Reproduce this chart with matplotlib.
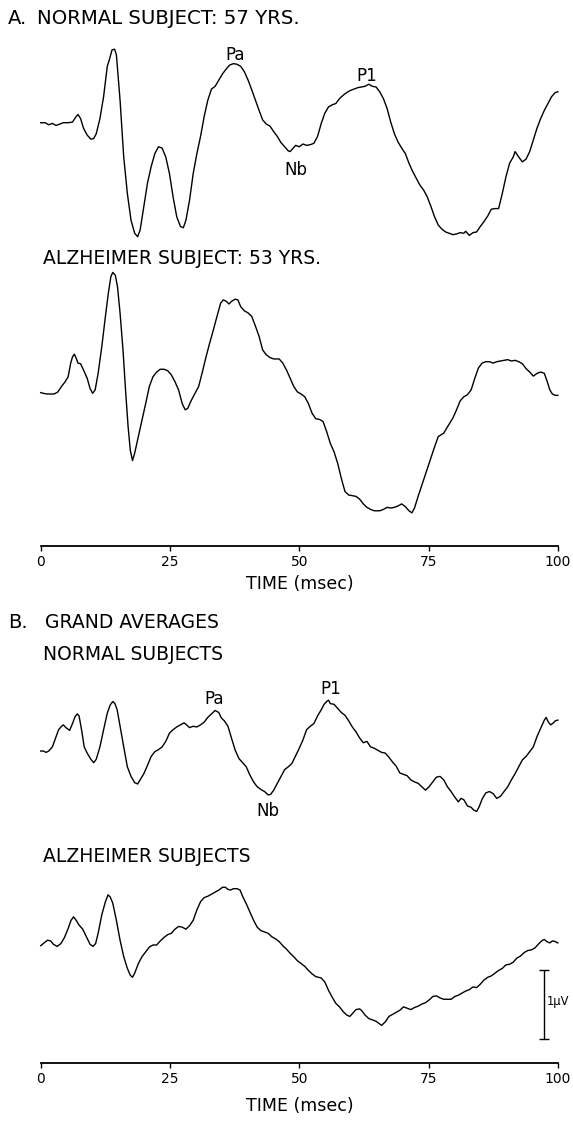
import matplotlib
matplotlib.use("Agg")
import matplotlib.pyplot as plt

# ---------------- data (time in msec, amplitude in microvolts) ----------------
a_normal_t = [0.0, 0.85, 1.56, 2.26, 2.97, 3.68, 4.38, 5.44, 6.15, 6.86,
              7.21, 7.71, 8.27, 8.98, 9.69, 10.25, 10.74, 11.45, 12.16, 12.87,
              13.36, 13.79, 14.28, 14.63, 15.34, 16.05, 16.75, 17.46, 18.17, 18.74,
              19.23, 19.94, 20.64, 21.35, 22.06, 22.77, 23.47, 24.18, 24.89, 25.59,
              26.30, 27.01, 27.57, 28.07, 28.77, 29.48, 30.19, 30.90, 31.60, 32.31,
              33.02, 33.72, 34.43, 35.14, 35.84, 36.55, 37.26, 37.97, 38.67, 39.38,
              40.09, 40.79, 41.50, 42.21, 42.91, 43.62, 44.33, 45.04, 45.74, 46.45,
              47.16, 47.86, 48.22, 48.57, 49.28, 49.98, 50.69, 51.40, 52.11, 52.81,
              53.52, 54.23, 54.93, 55.64, 56.35, 57.06, 57.76, 58.47, 59.18, 59.88,
              60.59, 61.30, 62.00, 62.71, 63.42, 64.12, 64.83, 65.54, 66.25, 66.95,
              67.66, 68.37, 69.07, 69.78, 70.49, 71.19, 71.90, 72.61, 73.32, 74.02,
              74.73, 75.44, 76.14, 76.85, 77.56, 78.27, 78.97, 79.68, 80.39, 81.09,
              81.80, 82.15, 82.86, 83.57, 84.27, 84.98, 85.69, 86.40, 87.10, 87.81,
              88.52, 89.23, 89.93, 90.64, 91.34, 91.70, 92.41, 93.11, 93.82, 94.53,
              95.23, 95.94, 96.65, 97.36, 98.06, 98.77, 99.48, 99.97]
a_normal_v = [0.00, 0.00, -0.03, -0.01, -0.04, -0.02, 0.00, 0.00, 0.01, 0.09,
              0.12, 0.06, -0.08, -0.18, -0.24, -0.23, -0.16, 0.06, 0.38, 0.82,
              0.94, 1.06, 1.07, 0.99, 0.33, -0.50, -1.03, -1.42, -1.61, -1.66,
              -1.56, -1.22, -0.88, -0.64, -0.45, -0.35, -0.37, -0.50, -0.74, -1.08,
              -1.37, -1.51, -1.53, -1.42, -1.13, -0.74, -0.45, -0.20, 0.09, 0.33,
              0.49, 0.53, 0.62, 0.71, 0.78, 0.84, 0.86, 0.85, 0.82, 0.74,
              0.62, 0.48, 0.33, 0.18, 0.04, -0.02, -0.05, -0.13, -0.20, -0.29,
              -0.35, -0.41, -0.42, -0.39, -0.33, -0.35, -0.31, -0.33, -0.32, -0.30,
              -0.20, -0.01, 0.14, 0.23, 0.26, 0.28, 0.35, 0.40, 0.44, 0.47,
              0.49, 0.51, 0.52, 0.53, 0.56, 0.53, 0.52, 0.45, 0.35, 0.21,
              0.01, -0.16, -0.28, -0.37, -0.45, -0.59, -0.71, -0.81, -0.91, -0.98,
              -1.08, -1.22, -1.37, -1.49, -1.55, -1.59, -1.61, -1.63, -1.62, -1.60,
              -1.61, -1.58, -1.64, -1.60, -1.59, -1.51, -1.44, -1.36, -1.26, -1.25,
              -1.25, -1.03, -0.79, -0.59, -0.50, -0.42, -0.50, -0.57, -0.53, -0.42,
              -0.25, -0.08, 0.06, 0.18, 0.28, 0.38, 0.44, 0.45]

a_alz_t = [0.00, 0.49, 1.20, 1.91, 2.62, 3.32, 4.03, 4.74, 5.30, 5.80,
           6.15, 6.50, 6.86, 7.21, 7.71, 8.27, 8.98, 9.54, 10.04, 10.53,
           11.10, 11.81, 12.51, 13.08, 13.57, 13.93, 14.42, 14.85, 15.34, 15.91,
           16.40, 16.90, 17.32, 17.75, 18.17, 18.88, 19.58, 20.29, 21.00, 21.70,
           22.41, 23.12, 23.83, 24.53, 25.24, 25.95, 26.65, 27.36, 27.93, 28.42,
           29.13, 29.84, 30.54, 31.25, 31.96, 32.66, 33.37, 34.08, 34.78, 35.28,
           35.84, 36.41, 36.91, 37.61, 38.11, 38.67, 39.38, 40.09, 40.79, 41.50,
           42.21, 42.91, 43.62, 44.33, 45.04, 46.10, 46.80, 47.51, 48.22, 48.92,
           49.63, 50.34, 51.04, 51.75, 52.46, 53.17, 53.87, 54.58, 55.29, 55.99,
           56.70, 57.41, 58.12, 58.82, 59.53, 60.24, 60.94, 61.65, 62.36, 63.06,
           63.77, 64.48, 65.54, 66.25, 66.95, 67.66, 68.37, 69.07, 69.78, 70.49,
           71.19, 71.76, 72.26, 72.96, 74.02, 75.08, 76.14, 76.85, 77.91, 78.62,
           79.68, 80.39, 81.09, 81.80, 82.50, 83.21, 83.92, 84.63, 85.33, 86.04,
           86.75, 87.46, 88.16, 88.87, 89.58, 90.28, 90.99, 91.70, 92.41, 93.11,
           93.82, 94.53, 95.23, 95.94, 96.65, 97.36, 97.92, 98.42, 98.91, 99.48,
           99.97]
a_alz_v = [0.01, 0.00, -0.01, -0.01, -0.01, 0.02, 0.10, 0.17, 0.24, 0.44,
           0.53, 0.57, 0.51, 0.44, 0.43, 0.34, 0.22, 0.07, 0.00, 0.05,
           0.29, 0.68, 1.12, 1.46, 1.70, 1.76, 1.72, 1.55, 1.17, 0.63,
           0.05, -0.49, -0.83, -0.98, -0.87, -0.63, -0.39, -0.15, 0.10, 0.24,
           0.31, 0.35, 0.35, 0.33, 0.27, 0.17, 0.05, -0.15, -0.24, -0.22,
           -0.10, 0.00, 0.10, 0.31, 0.53, 0.73, 0.92, 1.12, 1.31, 1.36,
           1.34, 1.30, 1.34, 1.37, 1.36, 1.26, 1.20, 1.17, 1.12, 0.98,
           0.83, 0.63, 0.56, 0.52, 0.50, 0.50, 0.44, 0.34, 0.22, 0.10,
           0.02, -0.01, -0.05, -0.15, -0.29, -0.37, -0.38, -0.41, -0.56, -0.73,
           -0.85, -1.02, -1.24, -1.43, -1.48, -1.49, -1.50, -1.54, -1.61, -1.66,
           -1.69, -1.71, -1.71, -1.69, -1.66, -1.67, -1.66, -1.64, -1.61, -1.65,
           -1.71, -1.74, -1.67, -1.50, -1.26, -1.02, -0.78, -0.63, -0.58, -0.49,
           -0.36, -0.24, -0.11, -0.05, -0.02, 0.05, 0.22, 0.37, 0.44, 0.46,
           0.46, 0.44, 0.46, 0.47, 0.48, 0.49, 0.47, 0.48, 0.46, 0.43,
           0.36, 0.31, 0.25, 0.29, 0.31, 0.29, 0.17, 0.05, -0.01, -0.03,
           -0.03]

b_normal_t = [0.00, 0.49, 1.06, 1.56, 2.26, 2.97, 3.46, 4.03, 4.38, 4.88,
              5.59, 6.15, 6.65, 7.07, 7.42, 7.92, 8.41, 8.98, 9.69, 10.25,
              10.74, 11.45, 12.16, 12.87, 13.43, 13.93, 14.35, 14.78, 15.34, 16.05,
              16.75, 17.46, 18.17, 18.74, 19.23, 19.94, 20.64, 21.35, 22.06, 22.77,
              23.47, 24.18, 24.89, 25.59, 26.30, 27.01, 27.71, 28.21, 28.77, 29.48,
              30.19, 30.90, 31.60, 32.31, 33.02, 33.72, 34.43, 34.93, 35.49, 36.20,
              36.91, 37.61, 38.32, 39.03, 39.74, 40.44, 41.15, 41.85, 42.56, 43.27,
              43.98, 44.47, 45.04, 45.74, 46.45, 47.16, 47.86, 48.57, 49.28, 49.98,
              50.69, 51.40, 52.11, 52.81, 53.52, 54.23, 54.79, 55.29, 55.64, 55.99,
              56.70, 57.41, 58.12, 58.82, 59.53, 60.24, 60.94, 61.65, 62.36, 63.06,
              63.77, 64.48, 65.19, 65.89, 66.60, 67.31, 68.01, 68.72, 69.43, 70.13,
              70.84, 71.55, 72.26, 72.96, 73.67, 74.38, 75.08, 75.79, 76.50, 77.20,
              77.91, 78.62, 79.33, 80.03, 80.74, 81.24, 81.80, 82.50, 83.21, 83.71,
              84.27, 84.77, 85.33, 86.04, 86.75, 87.46, 88.16, 88.87, 89.58, 90.28,
              90.99, 91.70, 92.41, 93.11, 93.82, 94.53, 95.23, 95.94, 96.65, 97.36,
              97.71, 98.06, 98.56, 99.12, 99.48, 99.97]
b_normal_v = [0.00, 0.00, -0.02, 0.00, 0.06, 0.21, 0.31, 0.36, 0.38, 0.34,
              0.30, 0.40, 0.50, 0.54, 0.51, 0.30, 0.06, -0.03, -0.12, -0.17,
              -0.12, 0.06, 0.31, 0.55, 0.67, 0.72, 0.69, 0.60, 0.36, 0.06,
              -0.23, -0.37, -0.46, -0.48, -0.42, -0.33, -0.21, -0.08, -0.01, 0.02,
              0.06, 0.14, 0.26, 0.31, 0.35, 0.38, 0.41, 0.38, 0.34, 0.36,
              0.35, 0.38, 0.42, 0.49, 0.54, 0.59, 0.56, 0.48, 0.44, 0.36,
              0.18, 0.01, -0.11, -0.17, -0.23, -0.35, -0.45, -0.52, -0.56, -0.59,
              -0.64, -0.63, -0.57, -0.47, -0.37, -0.27, -0.23, -0.18, -0.07, 0.04,
              0.16, 0.31, 0.36, 0.40, 0.51, 0.60, 0.68, 0.72, 0.74, 0.69,
              0.68, 0.62, 0.56, 0.52, 0.44, 0.35, 0.28, 0.19, 0.12, 0.14,
              0.06, 0.04, 0.01, -0.02, -0.03, -0.09, -0.16, -0.22, -0.32, -0.34,
              -0.36, -0.42, -0.45, -0.47, -0.52, -0.57, -0.52, -0.45, -0.38, -0.37,
              -0.42, -0.52, -0.59, -0.67, -0.74, -0.69, -0.71, -0.80, -0.82, -0.86,
              -0.88, -0.81, -0.70, -0.61, -0.59, -0.62, -0.69, -0.66, -0.59, -0.52,
              -0.42, -0.33, -0.23, -0.13, -0.08, -0.01, 0.06, 0.21, 0.33, 0.45,
              0.49, 0.43, 0.38, 0.41, 0.44, 0.45]

b_alz_t = [0.00, 0.64, 1.34, 1.91, 2.47, 3.18, 3.89, 4.60, 5.30, 5.87,
           6.36, 6.86, 7.42, 8.13, 8.84, 9.54, 10.11, 10.61, 11.10, 11.81,
           12.51, 13.01, 13.43, 13.93, 14.63, 15.34, 16.05, 16.75, 17.32, 17.75,
           18.17, 18.88, 19.58, 20.29, 21.00, 21.70, 22.41, 23.12, 23.83, 24.53,
           25.24, 25.95, 26.65, 27.36, 28.07, 28.77, 29.48, 30.19, 30.90, 31.60,
           32.31, 33.02, 33.72, 34.43, 35.14, 35.70, 36.20, 36.69, 37.26, 37.97,
           38.53, 39.03, 39.74, 40.44, 41.15, 41.85, 42.56, 43.27, 43.98, 44.68,
           45.39, 46.10, 46.80, 47.51, 48.22, 48.92, 49.63, 50.34, 51.04, 51.75,
           52.46, 53.17, 54.23, 54.93, 55.64, 56.35, 57.06, 57.76, 58.47, 59.18,
           59.74, 60.24, 60.94, 61.65, 62.00, 62.71, 63.42, 64.12, 64.83, 65.54,
           65.89, 66.60, 67.31, 68.01, 68.72, 69.43, 70.13, 70.84, 71.55, 72.26,
           72.96, 73.67, 74.38, 75.08, 75.79, 76.50, 77.20, 77.91, 78.62, 79.33,
           80.03, 80.74, 81.45, 82.15, 82.86, 83.57, 84.27, 84.98, 85.69, 86.40,
           87.10, 87.81, 88.52, 89.23, 89.93, 90.64, 91.34, 92.05, 92.76, 93.46,
           94.17, 94.88, 95.58, 96.29, 97.00, 97.36, 97.85, 98.42, 98.91, 99.48,
           99.97]
b_alz_v = [0.00, 0.04, 0.08, 0.07, 0.02, -0.01, 0.03, 0.12, 0.25, 0.37,
           0.42, 0.37, 0.30, 0.24, 0.13, 0.02, -0.01, 0.03, 0.18, 0.45,
           0.64, 0.74, 0.71, 0.62, 0.37, 0.08, -0.16, -0.33, -0.43, -0.46,
           -0.40, -0.26, -0.16, -0.09, -0.02, 0.01, 0.01, 0.07, 0.12, 0.16,
           0.18, 0.24, 0.28, 0.27, 0.24, 0.29, 0.37, 0.52, 0.64, 0.70,
           0.72, 0.75, 0.78, 0.81, 0.85, 0.85, 0.82, 0.81, 0.83, 0.83,
           0.81, 0.72, 0.61, 0.49, 0.37, 0.27, 0.22, 0.20, 0.18, 0.13,
           0.10, 0.06, 0.00, -0.05, -0.11, -0.16, -0.22, -0.26, -0.30, -0.36,
           -0.41, -0.45, -0.47, -0.53, -0.65, -0.75, -0.84, -0.89, -0.96, -1.01,
           -1.03, -0.99, -0.93, -0.92, -0.94, -1.01, -1.06, -1.08, -1.10, -1.14,
           -1.16, -1.11, -1.03, -1.00, -0.97, -0.94, -0.89, -0.91, -0.93, -0.90,
           -0.88, -0.85, -0.83, -0.79, -0.74, -0.73, -0.76, -0.78, -0.78, -0.78,
           -0.74, -0.72, -0.69, -0.66, -0.64, -0.60, -0.61, -0.56, -0.50, -0.46,
           -0.44, -0.40, -0.36, -0.33, -0.28, -0.27, -0.24, -0.18, -0.15, -0.10,
           -0.07, -0.06, -0.03, 0.03, 0.08, 0.09, 0.06, 0.04, 0.07, 0.06,
           0.04]

time_ticks = [0, 25, 50, 75, 100]
time_ticklabels = ["0", "25", "50", "75", "100"]

# peak labels: (text, time msec, amplitude uV)
a_peaks = [("Pa", 37.5, 0.99), ("Nb", 49.3, -0.69), ("P1", 63.1, 0.68)]
b_peaks = [("Pa", 33.6, 0.75), ("Nb", 44.0, -0.87), ("P1", 56.0, 0.90)]
scale_bar_t = 97.3
scale_bar_center = -0.86
scale_bar_half = 0.5

# ---------------- layout ----------------
W, H = 573, 1121
plt.rcParams["font.family"] = ["DejaVu Sans"]
fig = plt.figure(figsize=(W / 100, H / 100), dpi=100)
fig.patch.set_facecolor("white")

X0, X1 = 40.7, 558.0          # pixel span of 0..100 msec
PX_PER_UV = 68.7              # vertical pixels per microvolt


def px_axes(top, bottom):
    return fig.add_axes([X0 / W, 1 - bottom / H, (X1 - X0) / W, (bottom - top) / H])


def trace(t, v, base, top, bottom, time_axis=False, labelpad=5):
    ax = px_axes(top, bottom)
    ax.plot(t, v, color="black", lw=1.0, solid_joinstyle="round", clip_on=False)
    ax.set_xlim(0, 100)
    ax.set_ylim((base - bottom) / PX_PER_UV, (base - top) / PX_PER_UV)
    ax.patch.set_visible(False)
    for s in ("left", "right", "top"):
        ax.spines[s].set_visible(False)
    ax.set_yticks([])
    if time_axis:
        ax.spines["bottom"].set_linewidth(1.3)
        ax.set_xticks(time_ticks)
        ax.set_xticklabels(time_ticklabels, fontsize=10)
        ax.tick_params(axis="x", direction="out", length=3.5, width=1.0, pad=3)
        ax.set_xlabel("TIME (msec)", fontsize=12.5, labelpad=labelpad)
    else:
        ax.spines["bottom"].set_visible(False)
        ax.set_xticks([])
    return ax


def ftext(x, y, s, size=13.5, **kw):
    fig.text(x / W, 1 - y / H, s, fontsize=size, va="center", ha="left", **kw)


# Panel A
ftext(8, 18, "A.", size=14)
ftext(37, 18, "NORMAL SUBJECT: 57 YRS.", size=14.2)
ax_an = trace(a_normal_t, a_normal_v, 122.7, 35, 245)
for s, tt, vv in a_peaks:
    ax_an.text(tt, vv, s, fontsize=12, ha="center", va="center")

ftext(43, 259, "ALZHEIMER SUBJECT: 53 YRS.")
ax_aa = trace(a_alz_t, a_alz_v, 393.3, 265, 546, time_axis=True, labelpad=4)

# Panel B
ftext(8, 623, "B.", size=14)
ftext(45, 623, "GRAND AVERAGES")
ftext(43, 655, "NORMAL SUBJECTS")
ax_bn = trace(b_normal_t, b_normal_v, 751.0, 675, 825)
for s, tt, vv in b_peaks:
    ax_bn.text(tt, vv, s, fontsize=12, ha="center", va="center")

ftext(43, 857, "ALZHEIMER SUBJECTS")
ax_ba = trace(b_alz_t, b_alz_v, 945.7, 870, 1063, time_axis=True, labelpad=8)
ax_ba.errorbar([scale_bar_t], [scale_bar_center], yerr=[scale_bar_half], fmt="none",
               ecolor="black", elinewidth=1.0, capsize=3.3, capthick=1.0, clip_on=False)
ax_ba.text(scale_bar_t + 0.6, scale_bar_center + 0.05, "1\u00b5V", fontsize=8.3,
           ha="left", va="center", clip_on=False)

fig.savefig("out.png", dpi=100, facecolor="white")
